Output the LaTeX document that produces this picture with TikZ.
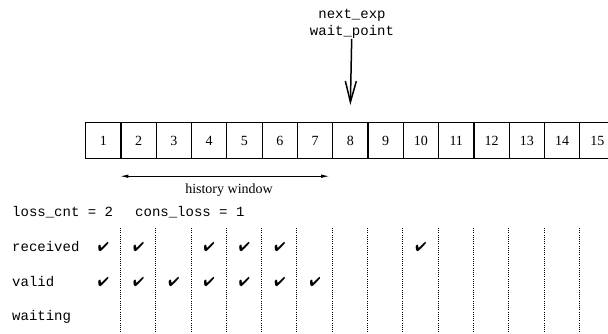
\documentclass[tikz,border=0pt]{standalone}
\usepackage{fontspec}
\setmainfont{Liberation Serif}
\setmonofont{Liberation Mono}
\usepackage{pifont}
\usetikzlibrary{arrows.meta}

\begin{document}
\begin{tikzpicture}[x=1pt, y=-1pt,
  cell/.style={draw, line width=1.2pt, minimum width=35.3pt, minimum height=36pt,
    inner sep=0pt, font=\fontsize{14}{16}\selectfont},
  code/.style={inner sep=0pt, font=\ttfamily\fontsize{14}{17}\selectfont},
  serif/.style={inner sep=0pt, font=\fontsize{14}{17}\selectfont},
  tick/.style={inner sep=0pt, font=\fontsize{13}{15}\selectfont},
  slot/.style={line width=0.8pt, dash pattern=on 1pt off 1.2pt}]

\useasboundingbox (0,0) rectangle (608,333);

\def\cellwidth{35.3}
\def\rowgap{35}

% sequence number buffer
\foreach \i in {1,...,15}
  \node[cell, anchor=north west] (c\i) at ({85+(\i-1)*\cellwidth}, 122) {\i};

% wait point
\node[code, align=center] (next_exp) at (352,24) {next\_exp\\wait\_point};
\path (c8.north) +(0,-17) coordinate (wait_tip);
\draw[-{Straight Barb[length=21pt, width=11pt]}, line width=1.5pt] (next_exp) -- (wait_tip);

% history window
\path (c2.south west) +(0,17) coordinate (hist_start);
\path (c8.south west) +(-3,17) coordinate (hist_end);
\draw[{Latex[length=8pt, width=3.5pt]}-{Latex[length=8pt, width=3.5pt]}, line width=0.8pt] (hist_start) -- (hist_end);
\node[serif] (hist_label) at (229,190) {history window};

% counters
\node[code, anchor=west] (loss_cnt) at (12,212) {loss\_cnt = 2};
\node[code, anchor=west] (cons_loss) at (135,212) {cons\_loss = 1};

% state rows
\node[code, anchor=west] (received) at (12,247) {received};
\node[code, anchor=west] (valid) at (12,247+\rowgap) {valid};
\node[code, anchor=west] (waiting) at (12,247+2*\rowgap) {waiting};

\foreach \i in {2,...,15}
  \draw[slot] (c\i.south west |- 0,228) -- (c\i.south west |- 0,333);

\foreach \i in {1,2,4,5,6,10}
  \node[tick] (rec\i) at (c\i.center |- received) {\ding{52}};
\foreach \i in {1,...,7}
  \node[tick] (val\i) at (c\i.center |- valid) {\ding{52}};

\end{tikzpicture}
\end{document}
